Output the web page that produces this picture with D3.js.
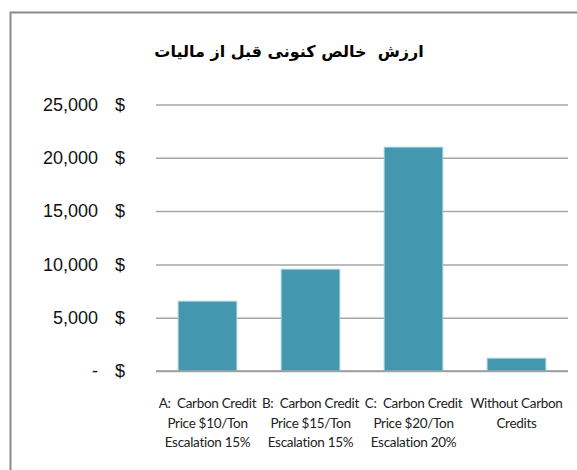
<!DOCTYPE html>
<html>
<head>
<meta charset="utf-8">
<script src="https://cdn.jsdelivr.net/npm/d3@7"></script>
<style>
    body { margin: 0; background: #fff; }
    svg { display: block; }
</style>
</head>
<body>
<svg id="chart" width="577" height="470"></svg>
<script>
// chart data
var titleText = "ارزش  خالص کنونی قبل از مالیات";
var categories = ["A", "B", "C", "D"];
var categoryLabels = [
    ["A:  Carbon Credit", "Price $10/Ton", "Escalation 15%"],
    ["B:  Carbon Credit", "Price $15/Ton", "Escalation 15%"],
    ["C:  Carbon Credit", "Price $20/Ton", "Escalation 20%"],
    ["Without Carbon", "Credits"]
];
var npvValues = [6550, 9550, 21000, 1200];
var yTicks = [0, 5000, 10000, 15000, 20000, 25000];

var draw = {

    margin: {top: 104.5, right: 9, bottom: 99, left: 156},

    index: function () {
        var svg = d3.select("#chart");
        var W = +svg.attr("width"), H = +svg.attr("height");
        var m = draw.margin;
        var width = W - m.left - m.right,
            height = H - m.top - m.bottom;

        // outer frame (only top & left edges are in view)
        svg.append("rect")
            .attr("x", 10.5).attr("y", 12.5)
            .attr("width", W + 20).attr("height", H + 20)
            .attr("fill", "none")
            .attr("stroke", "#8a8a8a")
            .attr("stroke-width", 2);

        svg.append("text")
            .attr("x", 289).attr("y", 57)
            .attr("text-anchor", "middle")
            .attr("direction", "rtl")
            .attr("xml:space", "preserve")
            .style("font-family", "'DejaVu Sans', sans-serif")
            .style("font-weight", "bold")
            .style("font-size", "16px")
            .attr("fill", "#000")
            .text(titleText);

        var x = d3.scaleBand()
            .domain(categories)
            .range([0, width])
            .paddingInner(0.43)
            .paddingOuter(0.215);
        var y = d3.scaleLinear()
            .domain([0, 25000])
            .range([height, 0]);

        var g = svg.append("g")
            .attr("transform", "translate(" + m.left + "," + m.top + ")");

        // gridlines
        g.append("g")
            .attr("class", "grid")
            .call(d3.axisLeft(y).tickValues(yTicks).tickSize(-width).tickFormat(""))
            .call(function (s) {
                s.select(".domain").remove();
                s.selectAll("line")
                    .attr("stroke", "#a6a6a6")
                    .attr("stroke-width", 1.5);
            });

        // y labels
        var yAxis = g.append("g")
            .attr("transform", "translate(-58,0)")
            .call(d3.axisLeft(y).tickValues(yTicks).tickSize(0).tickPadding(0)
                .tickFormat(function (d) { return d === 0 ? "-" : d3.format(",")(d); }));
        yAxis.select(".domain").remove();
        yAxis.selectAll("text")
            .style("font-family", "'Liberation Sans', Arial, sans-serif")
            .style("font-size", "18px")
            .attr("fill", "#111");
        yAxis.selectAll(".tick").append("text")
            .attr("x", 22)
            .attr("dy", "0.32em")
            .attr("text-anchor", "middle")
            .attr("fill", "#111")
            .style("font-family", "'Liberation Sans', Arial, sans-serif")
            .style("font-size", "18px")
            .text("$");

        // bars
        g.selectAll("rect.bar")
            .data(npvValues)
            .enter().append("rect")
            .attr("class", "bar")
            .attr("x", function (d, i) { return x(categories[i]); })
            .attr("width", x.bandwidth())
            .attr("y", function (d) { return y(d); })
            .attr("height", function (d) { return height - y(d); })
            .attr("fill", "#4397ae")
            .attr("stroke", "#a8d3de")
            .attr("stroke-width", 1);

        // x axis line
        g.append("line")
            .attr("x1", 0).attr("x2", width)
            .attr("y1", height).attr("y2", height)
            .attr("stroke", "#9a9a9a")
            .attr("stroke-width", 1.5);

        // category labels
        var labels = g.selectAll("text.cat")
            .data(categoryLabels)
            .enter().append("text")
            .attr("class", "cat")
            .attr("text-anchor", "middle")
            .attr("xml:space", "preserve")
            .attr("fill", "#222")
            .style("font-family", "Lato, 'Open Sans', sans-serif")
            .style("font-size", "13.5px")
            .style("letter-spacing", "-0.3px");
        labels.selectAll("tspan")
            .data(function (d, i) { return d.map(function (t) { return {t: t, i: i}; }); })
            .enter().append("tspan")
            .attr("x", function (d) { return x(categories[d.i]) + x.bandwidth() / 2; })
            .attr("y", function (d, j) { return height + 37 + j * 19.5; })
            .text(function (d) { return d.t; });
    }
};

draw.index();
</script>
</body>
</html>
